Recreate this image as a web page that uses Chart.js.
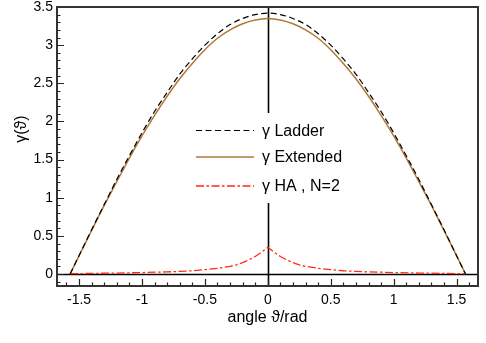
<!DOCTYPE html>
<html>
<head>
<meta charset="utf-8">
<script src="https://cdn.jsdelivr.net/npm/chart.js@4"></script>
<style>
  html, body { margin: 0; padding: 0; background: #fff; }
  #wrap { width: 486px; height: 343px; }
</style>
</head>
<body>
<div id="wrap"><canvas id="gammaChart" width="486" height="343"></canvas></div>
<script>
// angles (rad) and values
const angles = [-1.5708, -1.5, -1.4, -1.3, -1.2, -1.1, -1.0, -0.9, -0.8, -0.7, -0.6, -0.5, -0.4, -0.3, -0.2, -0.1, 0,
    0.1, 0.2, 0.3, 0.4, 0.5, 0.6, 0.7, 0.8, 0.9, 1.0, 1.1, 1.2, 1.3, 1.4, 1.5, 1.5708];
const ladder = [0, 0.24, 0.58, 0.91, 1.24, 1.55, 1.85, 2.13, 2.38, 2.62, 2.82, 3.00, 3.15, 3.27, 3.35, 3.40, 3.42,
    3.40, 3.35, 3.27, 3.15, 3.00, 2.82, 2.62, 2.38, 2.13, 1.85, 1.55, 1.24, 0.91, 0.58, 0.24, 0];
const extended = [0, 0.24, 0.57, 0.90, 1.21, 1.52, 1.81, 2.08, 2.33, 2.56, 2.76, 2.94, 3.09, 3.20, 3.28, 3.33, 3.35,
    3.33, 3.28, 3.20, 3.09, 2.94, 2.76, 2.56, 2.33, 2.08, 1.81, 1.52, 1.21, 0.90, 0.57, 0.24, 0];

const haAngles = [-1.5708, -1.4, -1.2, -1.0, -0.8, -0.7, -0.6, -0.5, -0.4, -0.3, -0.25, -0.2, -0.15, -0.1, -0.05, 0,
    0.05, 0.1, 0.15, 0.2, 0.25, 0.3, 0.4, 0.5, 0.6, 0.7, 0.8, 1.0, 1.2, 1.4, 1.5708];
const haValues = [0.004, 0.008, 0.013, 0.019, 0.028, 0.034, 0.043, 0.058, 0.075, 0.10, 0.12, 0.15, 0.185, 0.23, 0.285, 0.35,
    0.285, 0.23, 0.185, 0.15, 0.12, 0.10, 0.075, 0.058, 0.043, 0.034, 0.028, 0.019, 0.013, 0.008, 0.004];

const seriesNames = ['\u03b3 Ladder', '\u03b3 Extended', '\u03b3 HA , N=2'];

const xTicks = [-1.5, -1, -0.5, 0, 0.5, 1, 1.5];
const yTicks = [0, 0.5, 1, 1.5, 2, 2.5, 3, 3.5];

const FONT = '"Liberation Sans", Arial, Helvetica, sans-serif';

function toPoints(xs, ys) {
    return xs.map((x, i) => ({x: x, y: ys[i]}));
}

// inner ticks, frame, zero lines and the boxed legend
const framePlugin = {
    id: 'frame',
    beforeDatasetsDraw(chart) {
        const {ctx, chartArea: a, scales: {x, y}} = chart;
        ctx.save();
        ctx.strokeStyle = '#000';
        ctx.lineWidth = 1.6;
        ctx.beginPath();
        const x0 = Math.round(x.getPixelForValue(0)) + 0.5;
        const y0 = Math.round(y.getPixelForValue(0)) + 0.5;
        ctx.moveTo(x0, a.top); ctx.lineTo(x0, a.bottom);
        ctx.moveTo(a.left, y0); ctx.lineTo(a.right, y0);
        ctx.stroke();

        // minor/major ticks pointing inward
        ctx.lineWidth = 1.2;
        ctx.strokeStyle = '#222';
        ctx.beginPath();
        for (let i = -16; i <= 16; i++) {
            const px = Math.round(x.getPixelForValue(i / 10)) + 0.5;
            const len = (i % 5 === 0) ? 7 : 3.5;
            ctx.moveTo(px, a.bottom); ctx.lineTo(px, a.bottom - len);
        }
        for (let i = -1; i <= 35; i++) {
            const py = Math.round(y.getPixelForValue(i / 10)) + 0.5;
            if (py < a.top || py > a.bottom) continue;
            const len = (i % 5 === 0) ? 7 : 3.5;
            ctx.moveTo(a.left, py); ctx.lineTo(a.left + len, py);
        }
        ctx.stroke();
        ctx.restore();
    },
    afterDatasetsDraw(chart) {
        const {ctx, chartArea: a} = chart;
        ctx.save();
        // legend box (white, covers zero line)
        ctx.fillStyle = '#fff';
        ctx.fillRect(190, 113, 170, 90);
        const rows = [130.5, 157, 186];
        ctx.font = '16px ' + FONT;
        ctx.textBaseline = 'middle';
        chart.data.datasets.forEach((ds, i) => {
            ctx.strokeStyle = ds.borderColor;
            ctx.lineWidth = ds.borderWidth;
            ctx.setLineDash(ds.borderDash || []);
            ctx.beginPath();
            ctx.moveTo(196, rows[i]); ctx.lineTo(254, rows[i]);
            ctx.stroke();
            ctx.setLineDash([]);
            ctx.fillStyle = '#000';
            ctx.fillText(ds.label, 262, rows[i] + 1);
        });

        // frame
        ctx.strokeStyle = '#333';
        ctx.lineWidth = 2;
        ctx.strokeRect(a.left, a.top, a.right - a.left, a.bottom - a.top);

        // y title
        ctx.translate(22, 129);
        ctx.rotate(-Math.PI / 2);
        ctx.textAlign = 'center';
        ctx.fillStyle = '#000';
        ctx.fillText('\u03b3(\u03d1)', 0, 0);
        ctx.restore();
    }
};

new Chart(document.getElementById('gammaChart').getContext('2d'), {
    type: 'scatter',
    data: {
        datasets: [{
            label: seriesNames[0],
            data: toPoints(angles, ladder),
            showLine: true,
            borderColor: '#000',
            borderWidth: 1.2,
            borderDash: [6, 3.5],
            pointRadius: 0,
            cubicInterpolationMode: 'monotone'
        }, {
            label: seriesNames[1],
            data: toPoints(angles, extended),
            showLine: true,
            borderColor: '#b07838',
            borderWidth: 1.5,
            pointRadius: 0,
            cubicInterpolationMode: 'monotone'
        }, {
            label: seriesNames[2],
            data: toPoints(haAngles, haValues),
            showLine: true,
            borderColor: '#ff2a10',
            borderWidth: 1.3,
            borderDash: [8, 2.5, 2.5, 2.5],
            pointRadius: 0,
            tension: 0
        }]
    },
    options: {
        responsive: false,
        animation: false,
        layout: {padding: {top: 7, right: 8, left: 0, bottom: 0}},
        plugins: {legend: {display: false}, tooltip: {enabled: false}},
        scales: {
            x: {
                type: 'linear',
                min: -1.675,
                max: 1.67,
                afterFit: (s) => { s.height = 57; s.paddingLeft = 0; s.paddingRight = 0; },
                afterBuildTicks: (s) => { s.ticks = xTicks.map(v => ({value: v})); },
                grid: {display: false, drawTicks: false, tickLength: 0},
                border: {display: false},
                ticks: {
                    font: {family: FONT, size: 14},
                    color: '#000',
                    padding: 6,
                    maxRotation: 0,
                    callback: (v) => String(v)
                },
                title: {
                    display: true,
                    text: 'angle \u03d1/rad',
                    font: {family: FONT, size: 16},
                    color: '#000',
                    padding: {top: 2, bottom: 16}
                }
            },
            y: {
                type: 'linear',
                min: -0.157,
                max: 3.5,
                afterFit: (s) => { s.width = 57; s.paddingTop = 0; s.paddingBottom = 0; },
                afterBuildTicks: (s) => { s.ticks = yTicks.map(v => ({value: v})); },
                grid: {display: false, drawTicks: false, tickLength: 0},
                border: {display: false},
                ticks: {
                    font: {family: FONT, size: 14},
                    color: '#000',
                    padding: 4,
                    callback: (v) => String(v)
                }
            }
        }
    },
    plugins: [framePlugin]
});
</script>
</body>
</html>
